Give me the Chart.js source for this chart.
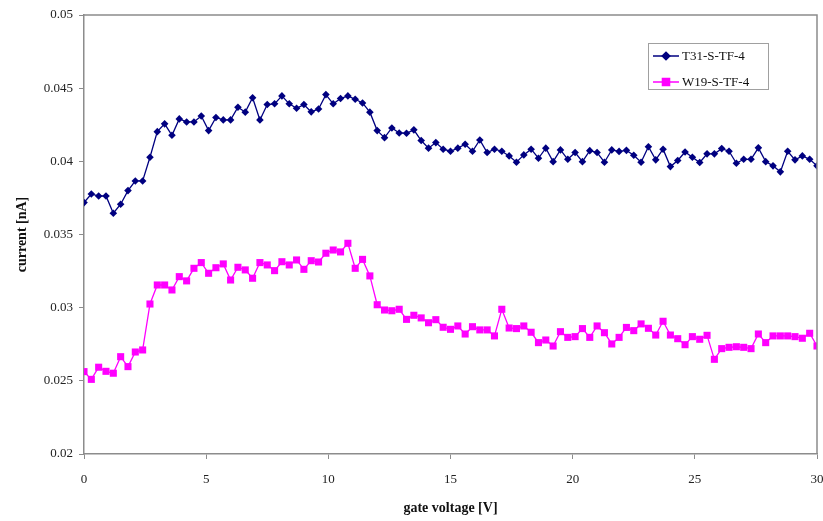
<!DOCTYPE html>
<html>
<head>
<meta charset="utf-8">
<script src="https://cdn.jsdelivr.net/npm/chart.js@4"></script>
<style>
  html, body { margin: 0; padding: 0; background: #fff; }
  #wrap { position: relative; width: 823px; height: 521px; }
</style>
</head>
<body>
<div id="wrap"><canvas id="chart" width="823" height="521"></canvas></div>
<script>
// gate voltage sweep [V]
const voltage = [
  0, 0.3, 0.6, 0.9, 1.2, 1.5, 1.8, 2.1, 2.4, 2.7,
  3, 3.3, 3.6, 3.9, 4.2, 4.5, 4.8, 5.1, 5.4, 5.7,
  6, 6.3, 6.6, 6.9, 7.2, 7.5, 7.8, 8.1, 8.4, 8.7,
  9, 9.3, 9.6, 9.9, 10.2, 10.5, 10.8, 11.1, 11.4, 11.7,
  12, 12.3, 12.6, 12.9, 13.2, 13.5, 13.8, 14.1, 14.4, 14.7,
  15, 15.3, 15.6, 15.9, 16.2, 16.5, 16.8, 17.1, 17.4, 17.7,
  18, 18.3, 18.6, 18.9, 19.2, 19.5, 19.8, 20.1, 20.4, 20.7,
  21, 21.3, 21.6, 21.9, 22.2, 22.5, 22.8, 23.1, 23.4, 23.7,
  24, 24.3, 24.6, 24.9, 25.2, 25.5, 25.8, 26.1, 26.4, 26.7,
  27, 27.3, 27.6, 27.9, 28.2, 28.5, 28.8, 29.1, 29.4, 29.7,
  30
];

// T31-S-TF-4
const currentT31 = [
  0.03718, 0.03777, 0.03763, 0.03763, 0.03645, 0.03707, 0.03800, 0.03866, 0.03866, 0.04028,
  0.04203, 0.04256, 0.04178, 0.04290, 0.04269, 0.04269, 0.04310, 0.04210, 0.04300, 0.04283,
  0.04283, 0.04370, 0.04336, 0.04435, 0.04283, 0.04388, 0.04393, 0.04447, 0.04393, 0.04363,
  0.04388, 0.04338, 0.04358, 0.04456, 0.04393, 0.04429, 0.04447, 0.04424, 0.04399, 0.04336,
  0.04210, 0.04162, 0.04228, 0.04194, 0.04192, 0.04215, 0.04142, 0.04090, 0.04128, 0.04083,
  0.04069, 0.04090, 0.04117, 0.04069, 0.04146, 0.04060, 0.04083, 0.04069, 0.04037, 0.03994,
  0.04044, 0.04083, 0.04021, 0.04090, 0.03998, 0.04078, 0.04014, 0.04060, 0.03998, 0.04073,
  0.04060, 0.03994, 0.04078, 0.04068, 0.04075, 0.04042, 0.03994, 0.04100, 0.04010, 0.04083,
  0.03964, 0.04006, 0.04064, 0.04028, 0.03992, 0.04051, 0.04051, 0.04087, 0.04069, 0.03987,
  0.04014, 0.04014, 0.04092, 0.03998, 0.03969, 0.03928, 0.04069, 0.04010, 0.04037, 0.04014,
  0.03969
];

// W19-S-TF-4
const currentW19 = [
  0.02563, 0.02510, 0.02593, 0.02565, 0.02552, 0.02665, 0.02597, 0.02697, 0.02711, 0.03025,
  0.03155, 0.03155, 0.03121, 0.03212, 0.03183, 0.03269, 0.03308, 0.03235, 0.03273, 0.03299,
  0.03189, 0.03276, 0.03258, 0.03201, 0.03308, 0.03292, 0.03253, 0.03314, 0.03292, 0.03326,
  0.03262, 0.03321, 0.03312, 0.03372, 0.03394, 0.03381, 0.03440, 0.03269, 0.03330, 0.03217,
  0.03020, 0.02984, 0.02979, 0.02989, 0.02920, 0.02948, 0.02930, 0.02897, 0.02918, 0.02866,
  0.02852, 0.02875, 0.02820, 0.02870, 0.02848, 0.02848, 0.02807, 0.02989, 0.02861, 0.02857,
  0.02875, 0.02832, 0.02761, 0.02779, 0.02738, 0.02836, 0.02797, 0.02802, 0.02857, 0.02797,
  0.02875, 0.02829, 0.02752, 0.02797, 0.02865, 0.02843, 0.02889, 0.02859, 0.02813, 0.02907,
  0.02813, 0.02788, 0.02747, 0.02802, 0.02784, 0.02811, 0.02647, 0.02720, 0.02729, 0.02733,
  0.02729, 0.02720, 0.02820, 0.02761, 0.02807, 0.02807, 0.02807, 0.02802, 0.02791, 0.02825,
  0.02738
];

const xTicks = [0, 5, 10, 15, 20, 25, 30];
const yTicks = [0.02, 0.025, 0.03, 0.035, 0.04, 0.045, 0.05];
const yTickLabels = ["0.02", "0.025", "0.03", "0.035", "0.04", "0.045", "0.05"];

const seriesNames = ["T31-S-TF-4", "W19-S-TF-4"];

const serif = "'Liberation Serif', 'Times New Roman', serif";
const axisGray = "#8c8c8c";

// frame on top/right of plot area + legend box inside
const framePlugin = {
  id: "frame",
  afterDraw(chart) {
    const { ctx, chartArea: a } = chart;
    ctx.save();
    ctx.strokeStyle = axisGray;
    ctx.lineWidth = 1.5;
    ctx.beginPath();
    ctx.moveTo(a.left, a.top);
    ctx.lineTo(a.right, a.top);
    ctx.lineTo(a.right, a.bottom);
    ctx.stroke();

    // legend
    const bx = 648, by = 43, bw = 120, bh = 46;
    ctx.fillStyle = "#fff";
    ctx.fillRect(bx, by, bw, bh);
    ctx.strokeStyle = "#a0a0a0";
    ctx.lineWidth = 1;
    ctx.strokeRect(bx + 0.5, by + 0.5, bw, bh);

    chart.data.datasets.forEach((ds, i) => {
      const y = by + 13 + i * 26;
      ctx.strokeStyle = ds.borderColor;
      ctx.lineWidth = 1.5;
      ctx.beginPath();
      ctx.moveTo(bx + 5, y);
      ctx.lineTo(bx + 31, y);
      ctx.stroke();
      Chart.helpers.drawPoint(ctx, {
        pointStyle: ds.pointStyle,
        radius: ds.pointRadius,
        borderWidth: 1
      }, bx + 18, y);
      ctx.fillStyle = ds.backgroundColor;
      ctx.fill();
      ctx.fillStyle = "#111";
      ctx.font = "13px " + serif;
      ctx.textBaseline = "middle";
      ctx.textAlign = "left";
      ctx.fillText(ds.label, bx + 34, y + 1);
    });
    ctx.restore();
  }
};

const ctx = document.getElementById("chart").getContext("2d");

new Chart(ctx, {
  type: "line",
  data: {
    datasets: [
      {
        label: seriesNames[0],
        data: voltage.map((v, i) => ({ x: v, y: currentT31[i] })),
        borderColor: "#000080",
        backgroundColor: "#000080",
        borderWidth: 1.3,
        pointStyle: "rectRot",
        pointRadius: 3.8,
        pointBorderWidth: 0,
        tension: 0
      },
      {
        label: seriesNames[1],
        data: voltage.map((v, i) => ({ x: v, y: currentW19[i] })),
        borderColor: "#ff00ff",
        backgroundColor: "#ff00ff",
        borderWidth: 1.3,
        pointStyle: "rect",
        pointRadius: 5,
        pointBorderWidth: 0,
        tension: 0
      }
    ]
  },
  options: {
    responsive: false,
    animation: false,
    layout: { padding: { top: 15, right: 6, left: 0, bottom: 0 } },
    plugins: {
      legend: { display: false },
      tooltip: { enabled: false }
    },
    scales: {
      x: {
        type: "linear",
        min: 0,
        max: 30,
        afterBuildTicks: (scale) => { scale.ticks = xTicks.map(v => ({ value: v })); },
        afterFit: (scale) => {
          scale.height = 67;
          scale.paddingLeft = 0;
          scale.paddingRight = 0;
        },
        border: { color: axisGray, width: 1.5 },
        grid: { drawOnChartArea: false, drawTicks: true, tickLength: 5, color: axisGray },
        ticks: {
          color: "#222",
          font: { family: serif, size: 13 },
          padding: 13,
          maxRotation: 0,
          callback: (v) => String(v)
        },
        title: {
          display: true,
          text: "gate voltage [V]",
          color: "#111",
          font: { family: serif, size: 14, weight: "bold" },
          padding: { top: 0, bottom: 4 }
        }
      },
      y: {
        min: 0.02,
        max: 0.05,
        afterBuildTicks: (scale) => { scale.ticks = yTicks.map(v => ({ value: v })); },
        afterFit: (scale) => {
          scale.width = 84;
          scale.paddingTop = 0;
          scale.paddingBottom = 0;
        },
        border: { color: axisGray, width: 1.5 },
        grid: { drawOnChartArea: false, drawTicks: true, tickLength: 5, color: axisGray },
        ticks: {
          color: "#222",
          font: { family: serif, size: 13 },
          padding: 6,
          callback: (v) => {
            const k = yTicks.findIndex(t => Math.abs(t - v) < 1e-9);
            return k >= 0 ? yTickLabels[k] : "";
          }
        },
        title: {
          display: true,
          text: "current [nA]",
          color: "#111",
          font: { family: serif, size: 14, weight: "bold" },
          padding: { top: 14, bottom: 0 }
        }
      }
    }
  },
  plugins: [framePlugin]
});
</script>
</body>
</html>
